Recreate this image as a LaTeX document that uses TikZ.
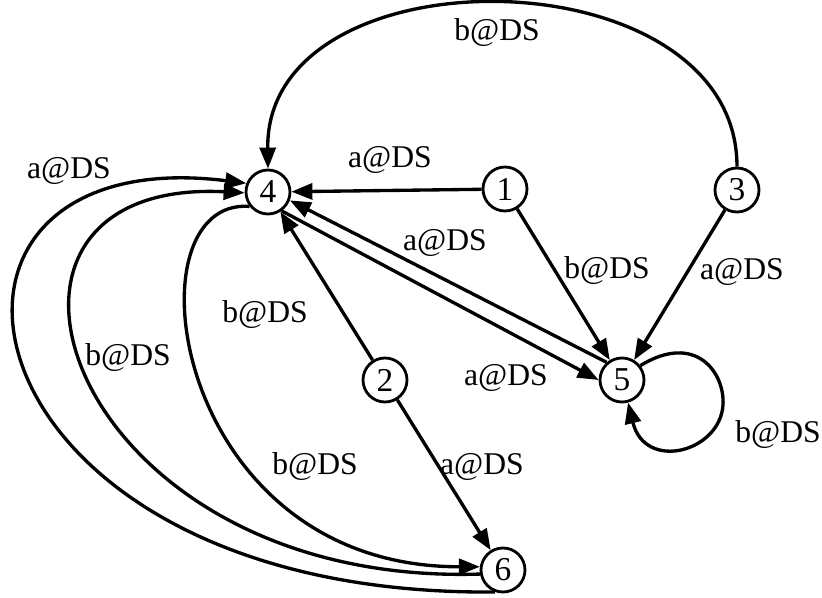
\documentclass[tikz,border=0pt]{standalone}
\usepackage{fontspec}
\setmainfont{Liberation Serif}
\usetikzlibrary{arrows.meta}
\begin{document}
\begin{tikzpicture}[
  state/.style={circle, draw, line width=1.6pt, minimum size=0.88cm, inner sep=0pt, font=\fontsize{19}{21}\selectfont},
  trans/.style={-{Triangle[length=0.42cm,width=0.32cm]}, line width=1.9pt},
  lbl/.style={font=\fontsize{18}{20}\selectfont, inner sep=1pt}
]
\useasboundingbox (0,0) rectangle (16.44,11.94);
\node (s1) at (10.10, 8.16) [state]{1};
\node (s2) at (7.70, 4.34) [state]{2};
\node (s3) at (14.74, 8.14) [state]{3};
\node (s4) at (5.36, 8.10) [state]{4};
\node (s5) at (12.44, 4.34) [state]{5};
\node (s6) at (10.06, 0.54) [state]{6};
\node (l14) at (7.80, 8.74) [lbl]{a@DS};
\node (l15) at (12.14, 6.52) [lbl]{b@DS};
\node (l35) at (14.84, 6.50) [lbl]{a@DS};
\node (l34) at (9.94, 11.28) [lbl]{b@DS};
\node (l54) at (8.90, 7.08) [lbl]{a@DS};
\node (l45) at (10.12, 4.38) [lbl]{a@DS};
\node (l55) at (15.56, 3.24) [lbl]{b@DS};
\node (l24) at (5.30, 5.64) [lbl]{b@DS};
\node (l26) at (9.64, 2.60) [lbl]{a@DS};
\node (l46) at (6.30, 2.60) [lbl]{b@DS};
\node (l64b) at (2.56, 4.78) [lbl]{b@DS};
\node (l64a) at (1.38, 8.52) [lbl]{a@DS};
\draw[trans](s1) -- (s4);
\draw[trans](s1) -- (s5);
\draw[trans](s3) -- (s5);
\draw[trans](s2) -- (s4);
\draw[trans](s2) -- (s6);
\draw[trans](s5.131) -- (s4.-21);
\draw[trans](s4.-54) -- (s5.180);
\draw[trans](s3.north) .. controls (14.74, 12.9) and (5.3, 13.0) .. (s4.north);
\draw[trans](s5.38) .. controls (13.9, 5.3) and (14.5, 4.5) .. (14.46, 3.84)
  .. controls (14.4, 2.9) and (12.9, 2.5) .. (s5.-75);
\draw[trans](s4.218) .. controls (2.5, 8.0) and (3.4, 0.6) .. (s6.172);
\draw[trans](s6.190) .. controls (1.3, 0.2) and (-1.3, 8.4) .. (s4.182);
\draw[trans](s6.250) .. controls (-1.0, 0.0) and (-2.5, 9.2) .. (s4.158);
\end{tikzpicture}
\end{document}
